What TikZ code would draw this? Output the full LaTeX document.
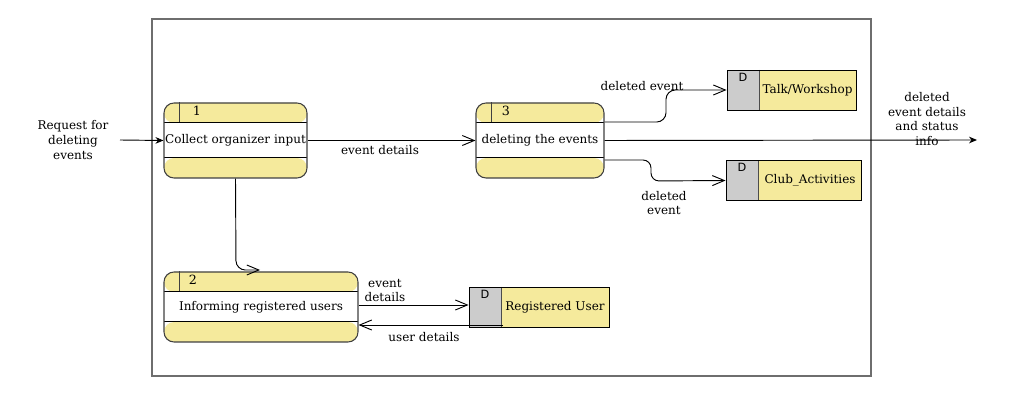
\documentclass[tikz,border=0pt]{standalone}
\usepackage{fontspec}
\setmainfont{DejaVu Serif}
\newfontfamily\dsans{DejaVu Sans}
\usetikzlibrary{arrows.meta,calc}
\definecolor{procy}{HTML}{F5EA9C}
\definecolor{storeg}{HTML}{CCCCCC}
\definecolor{framec}{HTML}{6E6E6E}
\begin{document}
\begin{tikzpicture}[x=0.75pt,y=-0.75pt,
  every node/.style={font=\fontsize{9}{10.9}\selectfont, inner sep=0pt},
  proc/.style={rectangle, rounded corners=7.5pt, draw=black!75, line width=0.8pt, fill=white,
    path picture={
      \fill[procy] (path picture bounding box.north west) rectangle ([yshift=-15pt]path picture bounding box.north east);
      \fill[procy] (path picture bounding box.south west) rectangle ([yshift=15pt]path picture bounding box.south east);
      \draw[black, line width=0.75pt] ([yshift=-15pt]path picture bounding box.north west) -- ([yshift=-15pt]path picture bounding box.north east);
      \draw[black, line width=0.75pt] ([yshift=15pt]path picture bounding box.south west) -- ([yshift=15pt]path picture bounding box.south east);
    }},
  store/.style={rectangle, draw=black, line width=0.7pt, fill=procy, minimum height=30pt,
    path picture={
      \fill[storeg] (path picture bounding box.north west) rectangle ([xshift=24pt]path picture bounding box.south west);
      \draw[black!70, line width=0.7pt] ([xshift=24pt]path picture bounding box.north west) -- ([xshift=24pt]path picture bounding box.south west);
    }},
  dlab/.style={font=\dsans\fontsize{8.5}{9}\selectfont},
  numlab/.style={font=\fontsize{9.5}{10}\selectfont},
  flow/.style={draw=black, line width=0.7pt, -{Straight Barb[length=9pt,width=7.5pt]}},
  flowin/.style={draw=black, line width=0.7pt, -{Stealth[length=6pt,width=5pt]}},
  lab/.style={align=center}
]
\useasboundingbox (0,0) rectangle (1021,409);
% frame
\node[draw=framec, line width=0.9pt, minimum width=539.25pt, minimum height=267.75pt] (frame) at (511.5,197.5) {};

% processes
\node[proc, minimum width=107.25pt, minimum height=56.25pt] (p1) at (235.5,140.5) {Collect organizer input};
\node[proc, minimum width=96pt, minimum height=56.25pt] (p3) at (540,140.5) {deleting the events};
\node[proc, minimum width=145.5pt, minimum height=52.5pt] (p2) at (261,307) {Informing registered users};
\draw[black!75, line width=0.8pt] ($(p1.north west)+(16,0)$) -- +(0,20);
\draw[black!75, line width=0.8pt] ($(p3.north west)+(16,0)$) -- +(0,20);
\draw[black!75, line width=0.8pt] ($(p2.north west)+(16,0)$) -- +(0,20);
\node[numlab] (n1) at (197,111) {1};
\node[numlab] (n3) at (506,111) {3};
\node[numlab] (n2) at (193,280) {2};

% stores
\node[store, minimum width=96.75pt] (s1) at (791.5,90) {};
\node (s1t) at (807.5,90) {Talk/Workshop};
\node[dlab] (s1d) at (743,77) {D};
\node[store, minimum width=101.25pt] (s2) at (793.5,180.5) {};
\node (s2t) at (810,180.5) {Club\_Activities};
\node[dlab] (s2d) at (742,167) {D};
\node[store, minimum width=105pt] (s3) at (539,307) {};
\node (s3t) at (555,307) {Registered User};
\node[dlab] (s3d) at (485,294) {D};

% external labels
\node[lab] (req) at (73,140) {Request for\\deleting\\events};
\coordinate (inA) at (120,140);
\coordinate (outB) at (977,140);
\node[lab] (outl) at (927,119) {deleted\\event details\\and status\\info};

% connectors
\draw[flowin] (inA) -- (p1.west);
\draw[flow] (p1.east) -- (p3.west);
\node (l1) at (380,150) {event details};
\draw[flowin] (p3.east) -- (outB);
\draw[flow, rounded corners=7pt] ($(p3.east)+(0,-18.5)$) -- (666,122) -- (666,90) -- (s1.west);
\node (l2) at (642,86) {deleted event};
\draw[flow, rounded corners=6pt] ($(p3.east)+(0,19.5)$) -- (651,160) -- (651,181) -- (s2.west);
\node[lab] (l3) at (664,203) {deleted\\event};
\draw[flow, rounded corners=7pt] (p1.south) -- (236,270) -- (260,270);
\draw[flow] ($(p2.east)+(0,-2)$) -- ($(s3.west)+(0,-2)$);
\node[lab] (l4) at (385,290.5) {event\\details};
\coordinate (sr) at (503,325);
\draw[flow] (sr) -- (p2.east|-sr);
\node (l5) at (424,337) {user details};
\end{tikzpicture}
\end{document}
